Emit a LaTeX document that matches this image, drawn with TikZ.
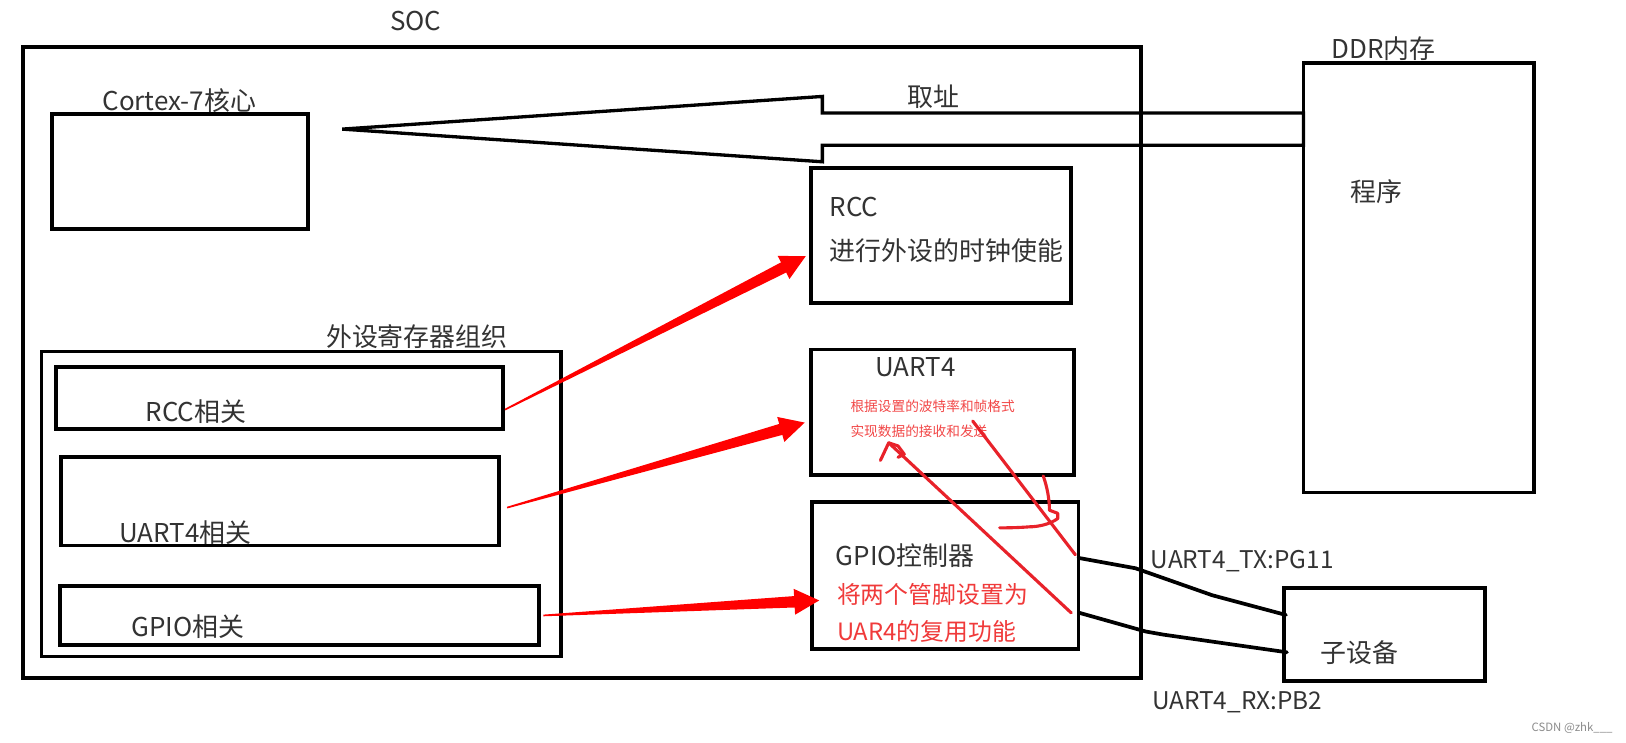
\documentclass[tikz,border=0pt]{standalone}
\usepackage{fontspec}
\setmainfont{Noto Sans CJK SC}
\usetikzlibrary{calc}
\definecolor{txt}{HTML}{333333}
\definecolor{hand}{HTML}{E8222A}
\definecolor{redtxt}{HTML}{F03A3A}
\definecolor{smallred}{HTML}{F24848}
\newcommand\taperarrow[2]{%
  \coordinate (hb) at ($(#2)!24pt!(#1)$);
  \fill[red] ($(#1)!0.8pt!90:(#2)$) -- ($(hb)!5.5pt!90:(#2)$) -- ($(hb)!12.5pt!90:(#2)$) -- (#2)
    -- ($(hb)!12.5pt!-90:(#2)$) -- ($(hb)!5.5pt!-90:(#2)$) -- ($(#1)!0.8pt!-90:(#2)$) -- cycle;}
\begin{document}
\begin{tikzpicture}[x=1pt,y=-1pt,
  box/.style={draw=black, line width=3.6pt, anchor=north west, inner sep=0pt, outer sep=0pt},
  lbl/.style={text=txt, inner sep=0pt, font=\fontsize{25}{30}\selectfont},
  pinlbl/.style={text=txt, inner sep=0pt, font=\fontsize{23.5}{28}\selectfont},
  redbig/.style={text=redtxt, inner sep=0pt, anchor=west, font=\fontsize{23}{28}\selectfont},
  redsmall/.style={text=smallred, inner sep=0pt, anchor=west, font=\fontsize{13.2}{15}\selectfont},
  wire/.style={draw=black, line width=3.6pt, line join=round, line cap=round},
  handline/.style={draw=hand, line width=3pt, line join=round, line cap=round}]
\fill[white] (0,0) rectangle (1568,716);
\useasboundingbox (0,0) rectangle (1568,716);

% boxes
\node[box, minimum width=1078pt, minimum height=609pt] (soc) at (22,45) {};
\node[box, minimum width=247pt, minimum height=111pt] (cortex) at (50,110) {};
\node[box, minimum width=222pt, minimum height=414pt] (ddr) at (1257,61) {};
\node[box, minimum width=251pt, minimum height=130pt] (rcc) at (782,162) {};
\node[box, minimum width=254pt, minimum height=121pt] (uart) at (782,337) {};
\node[box, minimum width=257pt, minimum height=142pt] (gpio) at (783,484) {};
\node[box, minimum width=194pt, minimum height=90pt] (sub) at (1238,567) {};
\node[box, minimum width=501pt, minimum height=294pt] (periph) at (40,339) {};
\node[box, minimum width=431pt, minimum height=60pt] (rccrel) at (54,354) {};
\node[box, minimum width=422pt, minimum height=85pt] (uartrel) at (59,441) {};
\node[box, minimum width=462pt, minimum height=57pt] (gpiorel) at (58,565) {};

% labels
\node[lbl] (tsoc) at (401,20) {SOC};
\node[lbl] (tcortex) at (173,97) {Cortex-7核心};
\node[lbl] (tfetch) at (900,93) {取址};
\node[lbl] (tddr) at (1334,47) {DDR内存};
\node[lbl] (tprog) at (1327,185) {程序};
\node[lbl, anchor=west] (trcc) at (800,200) {RCC};
\node[lbl, anchor=west] (trcc2) at (800,242) {进行外设的时钟使能};
\node[lbl] (tperiph) at (402,325) {外设寄存器组织};
\node[lbl] (trccrel) at (189,397) {RCC相关};
\node[lbl] (tuartrel) at (179,514) {UART4相关};
\node[lbl] (tgpiorel) at (181,604) {GPIO相关};
\node[lbl] (tuart) at (883,354) {UART4};
\node[redsmall] (tu1) at (820,392) {根据设置的波特率和帧格式};
\node[redsmall] (tu2) at (820,416) {实现数据的接收和发送};
\node[lbl] (tgpio) at (873,536) {GPIO控制器};
\node[redbig] (tg1) at (807,573) {将两个管脚设置为};
\node[redbig] (tg2) at (807,609) {UAR4的复用功能};
\node[pinlbl] (ttx) at (1198,541) {UART4\_TX:PG11};
\node[pinlbl] (trx) at (1193,677) {UART4\_RX:PB2};
\node[lbl] (tsub) at (1311,629) {子设备};
\node[text=black!45, inner sep=0pt, font=\fontsize{11}{13}\selectfont] (tcsdn) at (1516,702) {CSDN @zhk\_\_\_};

% fetch arrow
\coordinate (ftip) at ($(cortex.east)+(33,-41)$);
\draw[line width=3.2pt, line join=miter] (ftip) -- (793,93) -- (793,109)
  -- ($(ddr.north west)+(0,48)$) -- ($(ddr.north west)+(0,79)$)
  -- (793,140) -- (793,156) -- cycle;

% wires
\draw[wire] ($(gpio.east)+(0,-17)$) -- (1095,548) -- (1169,574) -- ($(sub.west)+(2,-19)$);
\draw[wire] ($(gpio.east)+(1,36)$) -- (1105,609) -- (1122,612) -- ($(sub.west)+(3,17)$);

% red tapered arrows
\coordinate (a1s) at ($(rccrel.east)+(2,11)$);
\coordinate (a1t) at ($(rcc.west)+(-5,20)$);
\taperarrow{a1s}{a1t}
\coordinate (a2s) at ($(uartrel.east)+(8,6)$);
\coordinate (a2t) at ($(uart.west)+(-6,10)$);
\taperarrow{a2s}{a2t}
\coordinate (a3s) at ($(gpiorel.east)+(4,0)$);
\coordinate (a3t) at ($(gpio.west)+(7,24)$);
\taperarrow{a3s}{a3t}

% hand-drawn red strokes
\coordinate (hA1) at (938,406);
\coordinate (hA2) at (1037,535);
\draw[handline] (hA1) -- (hA2);
\coordinate (hB1) at (857,427);
\coordinate (hB2) at (1033,591);
\draw[handline] (hB1) -- (hB2);
\draw[handline] (849,444) -- (857,427) -- (866,430) -- (872,438) -- (866,441);
\draw[handline] (1006,459) .. controls (1010,470) and (1012,482) .. (1012,492)
  -- (1020,495) -- (1020,500) .. controls (1012,506) and (1000,508) .. (993,508)
  .. controls (980,509) and (970,509) .. (964,509);
\end{tikzpicture}
\end{document}
